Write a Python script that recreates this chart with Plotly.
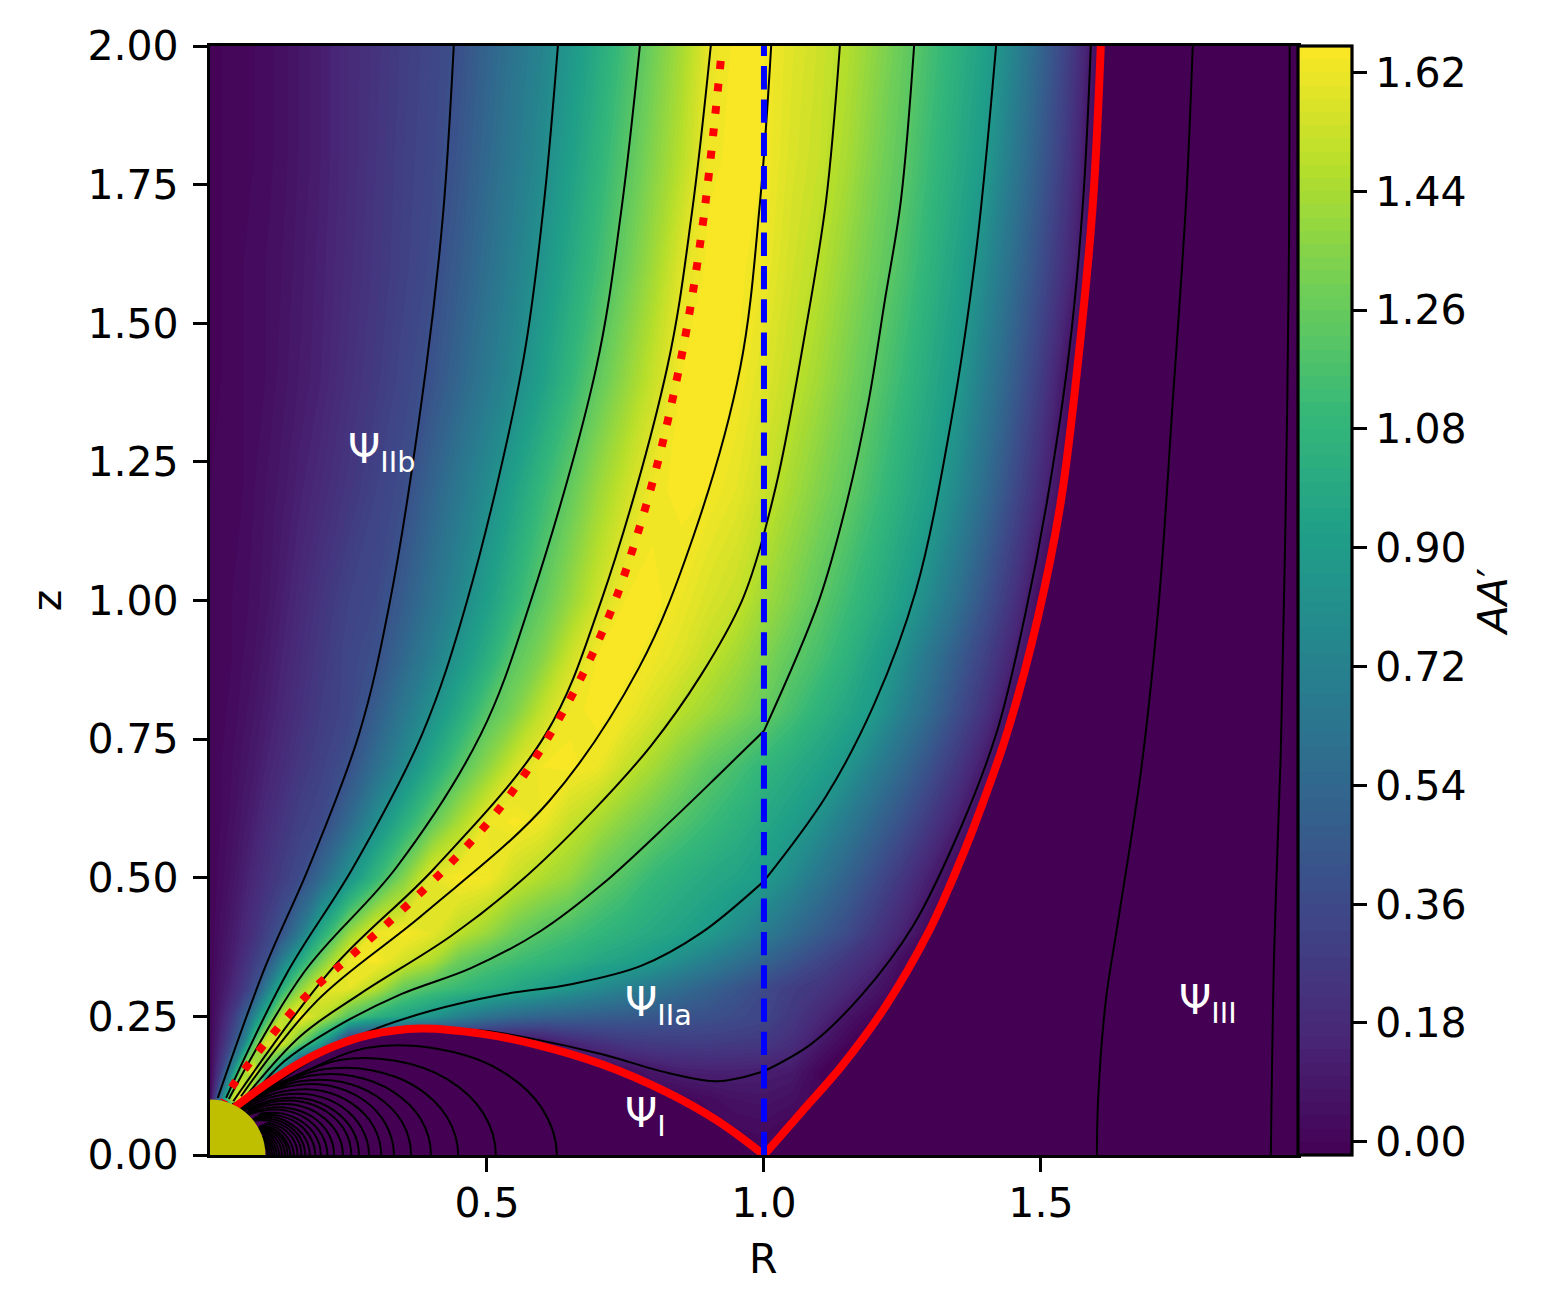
import plotly.graph_objects as go

# Grid of AA'
R_grid = [0, 0.02, 0.04, 0.06, 0.08, 0.1, 0.13, 0.16, 0.2, 0.25, 0.3, 0.35, 0.4,
          0.45, 0.5, 0.55, 0.6, 0.65, 0.7, 0.75, 0.8, 0.85, 0.9, 0.95, 1.0, 1.05,
          1.1, 1.15, 1.2, 1.25, 1.3, 1.35, 1.4, 1.45, 1.5, 1.55, 1.6, 1.65, 1.97]
z_grid = [0, 0.05, 0.1, 0.15, 0.2, 0.25, 0.3, 0.35, 0.4, 0.5, 0.6, 0.7, 0.8, 0.9,
          1.0, 1.2, 1.4, 1.6, 1.8, 2.0]
aa_grid = [
    [0.0] * 39,
    [0] * 13 + [0] * 10 + [0.02, 0.03, 0] + [0] * 13,
    [0, .7, 1.5, 1.62, 1.0, 0, 0, 0, 0, 0, 0, 0, 0] + [0] * 9 + [.03, .06, .07, .05] + [0] * 13,
    [0, .3, .8, 1.45, 1.62, 1.2, .7, 0, 0, 0, 0, 0, 0] + [0] * 6 + [.03, .08, .12, .13, .13, .12, .1] + [0] * 13,
    [0, .18, .38, .72, 1.22, 1.58, 1.55, 1.26, .88, .1, 0, 0, 0,
     0, 0, 0, .04, .14, .2, .25, .27, .28, .28, .27, .26, .2,
     .09] + [0] * 12,
    [0, .12, .26, .45, .75, 1.05, 1.5, 1.65, 1.5, 1.22, 1.05, .95, .85,
     .72, .62, .56, .52, .5, .48, .46, .44, .42, .4, .37, .34, .26,
     .17, .07] + [0] * 11,
    [0, .08, .16, .26, .38, .66, 1.04, 1.35, 1.6, 1.6, 1.47, 1.26, 1.17,
     1.11, 1.05, .98, .92, .85, .78, .71, .64, .57, .5, .43, .36, .29,
     .24, .17, .08] + [0] * 10,
    [0, .06, .12, .2, .29, .38, .7, .97, 1.3, 1.62, 1.65, 1.55, 1.46,
     1.28, 1.19, 1.14, 1.09, 1.04, .98, .94, .88, .79, .7, .61, .52, .43,
     .34, .25, .17, .03] + [0] * 9,
    [0, .05, .1, .16, .22, .3, .42, .64, 1.0, 1.38, 1.62, 1.65, 1.6,
     1.49, 1.4, 1.28, 1.2, 1.15, 1.09, 1.04, .99, .94, .885, .79, .68, .57,
     .47, .37, .25, .14] + [0] * 9,
    [0, .03, .07, .12, .17, .22, .29, .36, .55, .83, 1.09, 1.34, 1.6,
     1.65, 1.64, 1.53, 1.46, 1.39, 1.27, 1.19, 1.1, 1.04, .99, .95, .89, .78,
     .64, .51, .38, .25, .12] + [0] * 8,
    [0, .02, .05, .09, .13, .18, .24, .3, .35, .55, .8, 1.03, 1.25,
     1.44, 1.62, 1.65, 1.62, 1.52, 1.44, 1.35, 1.27, 1.19, 1.12, 1.05, .98, .91,
     .81, .67, .53, .4, .26, .12] + [0] * 7,
    [0, .02, .04, .07, .1, .14, .19, .25, .31, .4, .59, .78, .99,
     1.2, 1.37, 1.55, 1.64, 1.65, 1.62, 1.52, 1.43, 1.33, 1.23, 1.16, 1.08, 1.01,
     .94, .85, .7, .55, .4, .25, .09] + [0] * 6,
    [0, .01, .03, .05, .08, .11, .16, .21, .28, .34, .48, .65, .82,
     1.0, 1.2, 1.33, 1.51, 1.63, 1.65, 1.63, 1.56, 1.48, 1.41, 1.34, 1.26, 1.16,
     1.06, .97, .88, .71, .55, .38, .22, .03] + [0] * 5,
    [0, .01, .02, .04, .06, .09, .14, .19, .26, .34, .395, .545, .695,
     .855, 1.02, 1.22, 1.345, 1.53, 1.64, 1.65, 1.63, 1.58, 1.51, 1.43, 1.34, 1.24,
     1.16, 1.06, .94, .81, .64, .47, .31, .14] + [0] * 5,
    [0, .01, .02, .03, .05, .07, .12, .17, .24, .32, .36, .475, .615,
     .755, .915, 1.08, 1.245, 1.39, 1.54, 1.64, 1.65, 1.62, 1.565, 1.52, 1.42, 1.33,
     1.23, 1.13, 1.03, .92, .77, .6, .41, .23, .02] + [0] * 4,
    [0, .01, .01, .02, .04, .06, .09, .13, .18, .25, .32, .38, .515,
     .65, .785, .94, 1.1, 1.25, 1.4, 1.53, 1.63, 1.65, 1.64, 1.6, 1.53, 1.43,
     1.34, 1.25, 1.14, 1.03, .925, .77, .57, .37, .18] + [0] * 4,
    [0, 0, .01, .02, .03, .04, .07, .1, .14, .21, .27, .34, .41,
     .53, .655, .775, .925, 1.08, 1.24, 1.38, 1.52, 1.64, 1.65, 1.64, 1.58, 1.51,
     1.42, 1.32, 1.22, 1.11, .995, .88, .68, .48, .28, .05, 0, 0, 0],
    [0, 0, .01, .02, .03, .04, .06, .09, .13, .19, .25, .31, .37,
     .47, .59, .715, .843, .988, 1.13, 1.276, 1.42, 1.58, 1.65, 1.65, 1.62, 1.545,
     1.48, 1.38, 1.28, 1.18, 1.06, .94, .78, .58, .38, .18, 0, 0, 0],
    [0, 0, .01, .01, .02, .03, .05, .08, .12, .18, .24, .3, .35,
     .43, .546, .662, .777, .916, 1.06, 1.205, 1.345, 1.48, 1.63, 1.65, 1.64, 1.57,
     1.52, 1.44, 1.33, 1.23, 1.113, 1.0, .88, .67, .46, .25, 0, 0, 0],
    [0, 0, .01, .01, .02, .03, .05, .08, .12, .18, .23, .29, .34,
     .4, .514, .626, .737, .862, 1.0, 1.146, 1.29, 1.43, 1.6, 1.65, 1.64, 1.585,
     1.535, 1.47, 1.37, 1.265, 1.153, 1.04, .925, .742, .52, .3, .05, 0, 0],
]

# Separatrix, split at the cusp on R = 1
sep_left_R = [1.0, .917, .827, .706, .585, .495, .38, .285, .224, .164, .105, .043]
sep_left_z = [0, .061, .112, .164, .200, .218, .228, .216, .196, .167, .130, .085]
sep_right_R = [1.0, 1.07, 1.14, 1.22, 1.298, 1.339, 1.379, 1.440, 1.495, 1.536, 1.569, 1.594, 1.608]
sep_right_z = [0, .08, .16, .269, .404, .494, .592, .765, .972, 1.179, 1.45, 1.72, 2.0]

# Dotted line
dotted_R = [.922, .891, .861, .829, .801, .767, .729, .664, .583, .513, .433, .347, .258, .170, .043, .025]
dotted_z = [1.973, 1.690, 1.493, 1.336, 1.221, 1.105, .994, .849, .709, .613, .525, .442, .362, .283, .128, .097]

# Field lines, the ones crossing R = 1 are broken there because they kink on it
open_lines_R = [
    [.440, .421, .390, .325, .269, .178, .10, .014],
    [.628, .601, .563, .464, .383, .258, .14, .029],
    [.776, .742, .697, .579, .489, .336, .17, .034],
    [.904, .870, .825, .706, .606, .406, .222, .042],
    [1.013, .993, .957, .874, .774, .612, .386, .193, .056],
    [1.137, 1.112, 1.074, 1.029, 1.0],
    [1.0, .960, .886, .796, .688, .561, .435, .273, .164, .065],
    [1.271, 1.247, 1.218, 1.189, 1.150, 1.099, 1.0],
    [1.0, .922, .838, .709, .597, .471, .345, .224, .134, .078],
    [1.419, 1.383, 1.338, 1.274, 1.199, 1.112, 1.0],
    [1.0, .886, .778, .652, .525, .399, .285, .182, .089],
    [1.590, 1.576, 1.551, 1.511, 1.471, 1.421, 1.356, 1.269, 1.175, 1.085, 1.0],
    [1.0, .917, .827, .706, .585, .495, .399, .285, .164, .043],
]
open_lines_z = [
    [2.0, 1.70, 1.419, .999, .759, .518, .34, .103],
    [2.0, 1.70, 1.419, .999, .759, .518, .33, .103],
    [2.0, 1.70, 1.419, .999, .759, .518, .33, .101],
    [2.0, 1.70, 1.419, .999, .759, .518, .338, .097],
    [2.0, 1.720, 1.419, 1.120, .878, .638, .435, .278, .106],
    [2.0, 1.720, 1.481, 1.239, 1.120],
    [1.120, .999, .865, .738, .617, .494, .395, .292, .215, .106],
    [2.0, 1.720, 1.540, 1.360, 1.179, .999, .765],
    [.765, .689, .608, .489, .404, .337, .290, .229, .169, .108],
    [2.0, 1.630, 1.324, 1.017, .813, .647, .494],
    [.494, .400, .341, .308, .289, .260, .222, .170, .108],
    [2.0, 1.720, 1.45, 1.179, .972, .765, .592, .413, .287, .200, .151],
    [.151, .133, .148, .182, .209, .224, .227, .212, .162, .085],
]

# Field lines on the far side of the separatrix
outer_lines_R = [
    [1.774, 1.762, 1.738, 1.713, 1.681, 1.639, 1.617, 1.603, 1.601],
    [1.949, 1.948, 1.942, 1.933, 1.921, 1.915],
]
outer_lines_z = [
    [2.0, 1.72, 1.360, .999, .696, .420, .278, .097, 0],
    [2.0, 1.666, 1.179, .728, .368, 0],
]

# Closed field lines under the separatrix, foot on z = 0 first
closed_lines_R = [
    [.626, .598, .520, .407, .282, .167, .09, .04],
    [.516, .493, .428, .335, .232, .137, .044],
    [.448, .428, .372, .291, .202, .119, .047],
    [.399, .381, .331, .259, .18, .106, .05],
    [.363, .347, .301, .236, .163, .097, .052],
    [.332, .317, .276, .216, .149, .088, .055],
    [.309, .295, .256, .201, .139, .082, .057],
    [.287, .274, .238, .187, .129, .076, .059],
    [.269, .257, .223, .175, .121, .072, .061],
    [.255, .244, .212, .166, .115, .068],
    [.24, .229, .199, .156, .108, .064],
    [.224, .214, .186, .146, .101, .06],
    [.212, .202, .176, .138, .095, .056],
    [.2, .191, .166, .13, .09],
    [.19, .181, .158, .124, .086],
    [.18, .172, .149, .117, .081],
    [.172, .164, .143, .112, .077],
    [.165, .158, .137, .107, .074],
    [.158, .151, .131, .103],
    [.151, .144, .125, .098],
    [.145, .138, .12, .094],
    [.14, .134, .116, .091],
    [.135, .129, .112, .088],
    [.13, .124, .108, .085],
    [.125, .119, .104, .081],
    [.12, .115, .1, .078],
    [.116, .111, .096],
    [.112, .107, .093],
    [.108, .103, .09],
    [.104, .099, .086],
]
closed_lines_z = [
    [0, .086, .155, .192, .193, .148, .105, .092],
    [0, .076, .137, .170, .171, .135, .09],
    [0, .068, .123, .153, .154, .125, .088],
    [0, .064, .114, .142, .143, .118, .087],
    [0, .059, .106, .132, .133, .111, .085],
    [0, .056, .100, .125, .125, .105, .083],
    [0, .052, .093, .116, .116, .098, .082],
    [0, .048, .087, .108, .108, .091, .081],
    [0, .045, .081, .101, .101, .085, .079],
    [0, .043, .077, .096, .096, .081],
    [0, .04, .072, .09, .09, .076],
    [0, .038, .068, .084, .084, .071],
    [0, .036, .064, .08, .08, .067],
    [0, .034, .06, .075, .075],
    [0, .032, .057, .071, .072],
    [0, .03, .054, .068, .068],
    [0, .029, .052, .065, .065],
    [0, .028, .05, .062, .062],
    [0, .027, .048, .059],
    [0, .025, .046, .057],
    [0, .024, .044, .054],
    [0, .024, .042, .053],
    [0, .023, .041, .051],
    [0, .022, .039, .049],
    [0, .021, .038, .047],
    [0, .02, .036, .045],
    [0, .019, .035],
    [0, .019, .034],
    [0, .018, .033],
    [0, .017, .031],
]

label_text = ['Ψ<sub>IIb</sub>', 'Ψ<sub>IIa</sub>', 'Ψ<sub>I</sub>', 'Ψ<sub>III</sub>']
label_R = [0.245, 0.746, 0.746, 1.746]
label_z = [1.268, 0.270, 0.070, 0.275]

cbar_ticks = [0, 0.18, 0.36, 0.54, 0.72, 0.90, 1.08, 1.26, 1.44, 1.62]
x_ticks = [0.5, 1.0, 1.5]
y_ticks = [0, 0.25, 0.5, 0.75, 1.0, 1.25, 1.5, 1.75, 2.0]
R_max = 1.964
star_radius = 0.1
dark = '#440154'
font_px = 41

fig = go.Figure()

fig.add_trace(go.Contour(
    x=R_grid, y=z_grid, z=aa_grid, colorscale='Viridis', zmin=-0.02, zmax=1.66,
    autocontour=False,
    contours=dict(start=-0.02, end=1.66, size=0.02, coloring='fill', showlines=False),
    line=dict(width=0, smoothing=0),
    hoverinfo='skip',
    colorbar=dict(
        x=1.0, xanchor='left', xpad=0, y=0.5, yanchor='middle', ypad=0,
        len=1.0, lenmode='fraction', thickness=54, thicknessmode='pixels',
        outlinecolor='black', outlinewidth=3.2,
        tickmode='array', tickvals=cbar_ticks, tickformat='.2f', tickprefix='\u2002',
        ticks='outside', ticklen=14, tickwidth=3.2, tickcolor='black',
        tickfont=dict(family='DejaVu Sans', size=font_px, color='black'),
        title=dict(text='<i>AA</i>′', side='right',
                   font=dict(family='DejaVu Sans', size=font_px, color='black')),
    ),
))

# Regions with no field: keep their edge clean along the separatrix
fig.add_trace(go.Scatter(x=sep_left_R + [0], y=sep_left_z + [0], mode='none', fill='toself',
                         fillcolor=dark, showlegend=False, hoverinfo='skip'))
fig.add_trace(go.Scatter(x=sep_right_R + [R_max, R_max], y=sep_right_z + [2.0, 0], mode='none', fill='toself',
                         fillcolor=dark, showlegend=False, hoverinfo='skip'))

for line_R, line_z in zip(open_lines_R + outer_lines_R, open_lines_z + outer_lines_z):
    fig.add_trace(go.Scatter(x=line_R, y=line_z, mode='lines', showlegend=False, hoverinfo='skip',
                             line=dict(color='black', width=2, shape='spline', smoothing=1)))

# Closed lines cross z = 0 square on, so mirror the first point below the axis
for line_R, line_z in zip(closed_lines_R, closed_lines_z):
    fig.add_trace(go.Scatter(x=[line_R[1]] + line_R, y=[-line_z[1]] + line_z, mode='lines',
                             showlegend=False, hoverinfo='skip',
                             line=dict(color='black', width=2, shape='spline', smoothing=1)))

fig.add_trace(go.Scatter(x=sep_left_R, y=sep_left_z, mode='lines', showlegend=False, hoverinfo='skip',
                         line=dict(color='red', width=8, shape='spline', smoothing=1)))
fig.add_trace(go.Scatter(x=sep_right_R, y=sep_right_z, mode='lines', showlegend=False, hoverinfo='skip',
                         line=dict(color='red', width=8, shape='spline', smoothing=1)))
fig.add_trace(go.Scatter(x=dotted_R, y=dotted_z, mode='lines', showlegend=False, hoverinfo='skip',
                         line=dict(color='red', width=8, dash='8px,14.5px', shape='spline', smoothing=1)))
fig.add_trace(go.Scatter(x=[1, 1], y=[0, 2], mode='lines', showlegend=False, hoverinfo='skip',
                         line=dict(color='blue', width=6, dash='23.3px,10px')))

# Star
fig.add_shape(type='circle', xref='x', yref='y', x0=-star_radius, x1=star_radius,
              y0=-star_radius, y1=star_radius, fillcolor='#bfbf00', line=dict(width=0), layer='above')

for text, r, z in zip(label_text, label_R, label_z):
    fig.add_annotation(x=r, y=z, text=text, showarrow=False, xanchor='left', yanchor='middle',
                       font=dict(family='DejaVu Sans', size=font_px, color='white'))

# x label sits under R = 1, not under the middle of the plot area
fig.add_annotation(x=1.0, xref='x', y=-0.0938, yref='paper', text='R', showarrow=False, yanchor='middle',
                   font=dict(family='DejaVu Sans', size=font_px, color='black'))

axis_style = dict(showgrid=False, zeroline=False, showline=True, mirror=True, linecolor='black', linewidth=3.2,
                  ticks='outside', ticklen=14, tickwidth=3.2, tickcolor='black',
                  tickfont=dict(family='DejaVu Sans', size=font_px, color='black'))

fig.update_xaxes(range=[0, R_max], tickmode='array', tickvals=x_ticks, tickformat='.1f',
                 ticklabelstandoff=-4, **axis_style)
fig.update_yaxes(range=[0, 2], tickmode='array', tickvals=y_ticks, tickformat='.2f', ticklabelstandoff=6,
                 title=dict(text='z', standoff=14, font=dict(family='DejaVu Sans', size=font_px, color='black')),
                 **axis_style)

fig.update_layout(width=1559, height=1310, autosize=False, paper_bgcolor='white', plot_bgcolor=dark,
                  margin=dict(l=202, r=269, t=38, b=163), showlegend=False)

fig.write_html("out.html")
